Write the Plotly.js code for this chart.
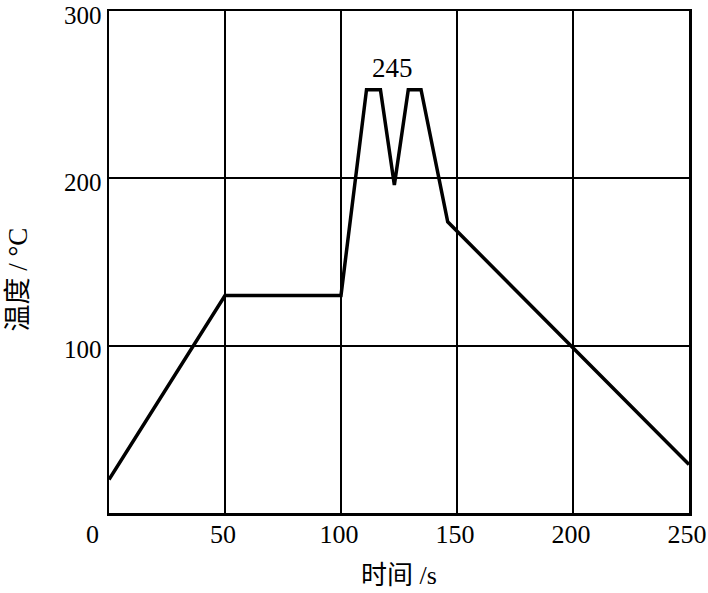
<!DOCTYPE html>
<html>
<head>
<meta charset="utf-8">
<script src="https://cdn.plot.ly/plotly-3.0.1.min.js"></script>
<style>html,body{margin:0;padding:0;background:#fff;}#chart{width:708px;height:593px;}</style>
</head>
<body>
<div id="chart"></div>
<script>
// Reflow temperature profile
var timeS = [0, 50, 100, 111, 117, 123, 129, 134.5, 146, 250];
var tempC = [20, 130, 130, 253, 253, 196, 253, 253, 174, 29];
var xTickVals = [50, 100, 150, 200, 250];
var xTickText = ['50', '100', '150', '200', '250'];
var yTickVals = [100, 200, 300];
var yTickText = ['100', '200', '300'];
var peakLabel = '245';
var xTitle = '时间 /s';
var yTitle = '温度 / °C';

var serif = 'Liberation Serif';
var cjk = 'Liberation Serif, Noto Sans CJK SC';

var trace = {
  x: timeS, y: tempC, type: 'scatter', mode: 'lines',
  line: {color: '#000', width: 3.5},
  hoverinfo: 'skip'
};

var layout = {
  width: 708, height: 593,
  margin: {l: 109, r: 19, t: 11, b: 80},
  paper_bgcolor: '#fff', plot_bgcolor: '#fff',
  showlegend: false,
  font: {family: serif, color: '#000', size: 26},
  xaxis: {
    range: [0, 250], tickvals: xTickVals, ticktext: xTickText,
    showgrid: true, gridcolor: '#000', gridwidth: 2,
    showline: true, linecolor: '#000', linewidth: 2.5, mirror: true,
    ticks: '', ticklen: 0, zeroline: false, ticklabeloverflow: 'allow',
    ticklabelshift: -2, ticklabelstandoff: -4,
    tickfont: {family: serif, size: 26, color: '#000'},
    title: {text: xTitle, font: {family: cjk, size: 26, color: '#000'}, standoff: 18}
  },
  yaxis: {
    range: [0, 300], tickvals: yTickVals, ticktext: yTickText,
    showgrid: true, gridcolor: '#000', gridwidth: 2,
    showline: true, linecolor: '#000', linewidth: 2.5, mirror: true,
    ticks: '', ticklen: 0, zeroline: false, ticklabeloverflow: 'allow',
    ticklabelshift: 4,
    tickfont: {family: serif, size: 25, color: '#000'}
  },
  annotations: [
    {x: 122, y: 266, xref: 'x', yref: 'y', text: peakLabel, showarrow: false,
     font: {family: serif, size: 27, color: '#000'}},
    {x: 0, y: 0, xref: 'paper', yref: 'paper', text: '0', showarrow: false,
     xanchor: 'center', yanchor: 'top', xshift: -17, yshift: -5,
     font: {family: serif, size: 26, color: '#000'}},
    {x: 0, y: 0.465, xref: 'paper', yref: 'paper', text: yTitle, showarrow: false,
     textangle: -90, xanchor: 'center', yanchor: 'middle', xshift: -91,
     font: {family: cjk, size: 27, color: '#000'}}
  ]
};

Plotly.newPlot('chart', [trace], layout, {displayModeBar: false, staticPlot: true});
</script>
</body>
</html>
